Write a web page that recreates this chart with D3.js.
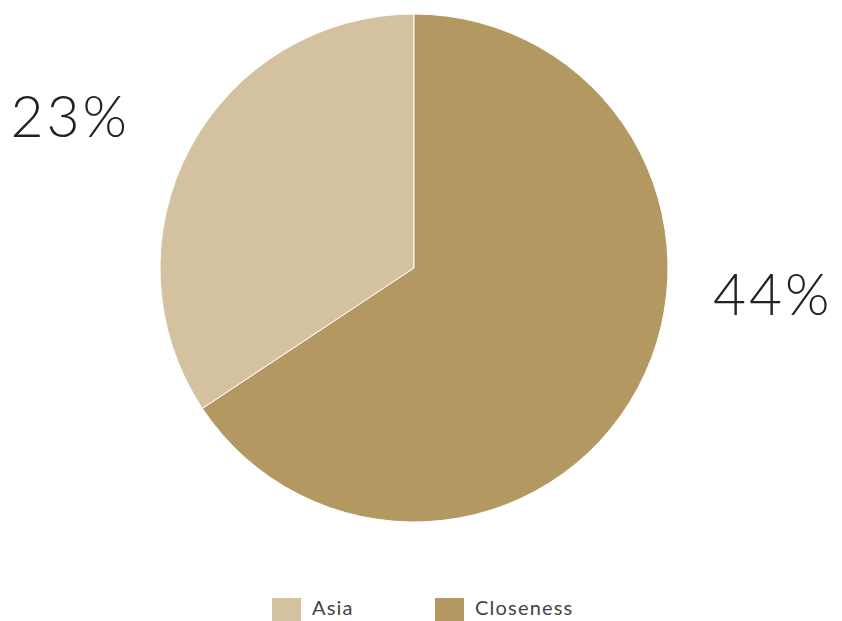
<!DOCTYPE html>
<html lang="en">
<head>
    <meta charset="UTF-8">
    <title>Asia vs Closeness</title>
    <script src="https://d3js.org/d3.v7.min.js"></script>
    <style>
        body {
            margin: 0;
            background-color: #ffffff;
            overflow: hidden;
        }
        .pct-label {
            font-family: 'Lato', 'Open Sans', sans-serif;
            font-weight: 300;
            font-size: 57px;
            letter-spacing: 3px;
            fill: #222222;
        }
        .legend-text {
            font-family: 'Lato', 'Open Sans', sans-serif;
            font-size: 20px;
            letter-spacing: 1.2px;
            fill: #444444;
        }
    </style>
</head>
<body>
    <svg id="chart"></svg>

    <script>
        // Data
        const categories = ["Asia", "Closeness"];
        const values = [23, 44];
        const labels = ["23%", "44%"];
        const colors = ["#d3c19f", "#b49862"];

        // Layout
        const width = 842, height = 621;
        const cx = 414, cy = 268, radius = 254;

        const svg = d3.select("#chart")
            .attr("width", width)
            .attr("height", height);

        const data = categories.map((c, i) => ({ name: c, value: values[i], label: labels[i], color: colors[i] }));

        // Slices go counterclockwise from 12 o'clock
        const pie = d3.pie()
            .sort(null)
            .value(d => d.value)
            .startAngle(0)
            .endAngle(-2 * Math.PI);

        const arc = d3.arc()
            .innerRadius(0)
            .outerRadius(radius);

        const g = svg.append("g")
            .attr("transform", `translate(${cx},${cy})`);

        const arcs = pie(data);

        g.selectAll("path")
            .data(arcs)
            .enter()
            .append("path")
            .attr("d", arc)
            .attr("fill", d => d.data.color)
            .attr("stroke", "#ffffff")
            .attr("stroke-width", 1);

        // Percent labels: left slice label sits upper-left, right slice label at right
        const labelOffsets = [
            { x: -radius - 30, y: -131, anchor: "end" },
            { x: radius + 45, y: 47, anchor: "start" }
        ];

        g.selectAll(".pct-label")
            .data(arcs)
            .enter()
            .append("text")
            .attr("class", "pct-label")
            .attr("x", (d, i) => labelOffsets[i].x)
            .attr("y", (d, i) => labelOffsets[i].y)
            .attr("text-anchor", (d, i) => labelOffsets[i].anchor)
            .text(d => d.data.label);

        // Legend
        const legendX = d3.scalePoint()
            .domain(categories)
            .range([272, 435]);

        const legend = svg.selectAll(".legend-item")
            .data(data)
            .enter()
            .append("g")
            .attr("class", "legend-item")
            .attr("transform", d => `translate(${legendX(d.name)},598)`);

        legend.append("rect")
            .attr("width", 29)
            .attr("height", 29)
            .attr("fill", d => d.color);

        legend.append("text")
            .attr("class", "legend-text")
            .attr("x", 40)
            .attr("y", 17)
            .text(d => d.name);
    </script>
</body>
</html>
